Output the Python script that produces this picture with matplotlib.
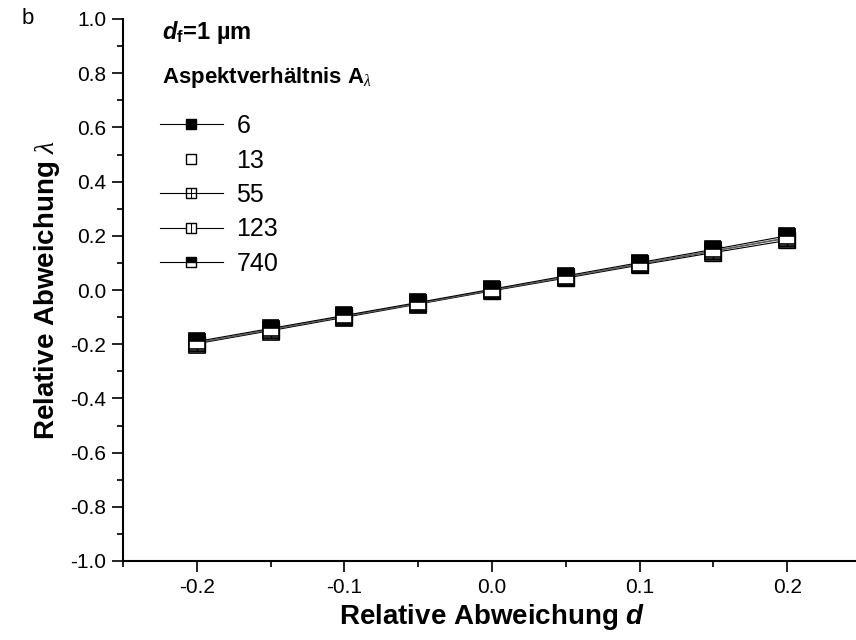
import matplotlib
matplotlib.use('Agg')
import matplotlib.pyplot as plt
from matplotlib.lines import Line2D
from matplotlib.legend_handler import HandlerTuple

plt.rcParams['font.family'] = ['Liberation Sans', 'DejaVu Sans']
plt.rcParams['mathtext.fontset'] = 'custom'
plt.rcParams['mathtext.it'] = 'Liberation Sans:italic:bold'
plt.rcParams['mathtext.bf'] = 'Liberation Sans:bold'
plt.rcParams['mathtext.rm'] = 'Liberation Sans:bold'
plt.rcParams['mathtext.sf'] = 'Liberation Serif:italic'

# relative deviation d and lambda for each aspect ratio
d = [-0.2, -0.15, -0.1, -0.05, 0.0, 0.05, 0.1, 0.15, 0.2]
lam_6 = [-0.198, -0.150, -0.101, -0.052, -0.003, 0.044, 0.092, 0.138, 0.183]
lam_13 = [-0.203, -0.154, -0.104, -0.055, -0.005, 0.044, 0.091, 0.138, 0.185]
lam_55 = [-0.196, -0.147, -0.098, -0.050, -0.001, 0.047, 0.095, 0.143, 0.191]
lam_123 = [-0.194, -0.146, -0.097, -0.049, 0.000, 0.048, 0.097, 0.145, 0.193]
lam_740 = [-0.190, -0.142, -0.094, -0.046, 0.003, 0.052, 0.101, 0.150, 0.200]
labels = ['6', '13', '55', '123', '740']

fig = plt.figure(figsize=(8.56, 6.4), dpi=100)
ax = fig.add_axes([123 / 856, 79 / 640, 738 / 856, 542 / 640])

ms = 11
lw = 0.8
ax.plot(d, lam_6, '-', color='black', lw=lw, marker='s', ms=ms, mfc='black', mec='black')
ax.plot(d, lam_13, 'none', marker='s', ms=ms, mfc='white', mec='black', mew=1.2)
ax.plot(d, lam_55, '-', color='#444444', lw=lw, marker='s', ms=ms, mfc='white', mec='black', mew=1.2)
ax.plot(d, lam_55, 'none', marker='+', ms=ms, mec='black', mew=1.0)
ax.plot(d, lam_123, '-', color='#666666', lw=lw, marker='s', ms=ms, mfc='white', mec='black', mew=1.2)
ax.plot(d, lam_123, 'none', marker='|', ms=ms, mec='black', mew=1.0)
ax.plot(d, lam_740, '-', color='black', lw=lw, marker='s', ms=ms, fillstyle='top',
        mfc='black', mfcalt='white', mec='black', mew=1.2)

ax.set_xlim(-0.25, 0.25)
ax.set_ylim(-1.0, 1.0)
ax.set_xticks([-0.2, -0.1, 0.0, 0.1, 0.2])
ax.set_xticks([-0.25, -0.15, -0.05, 0.05, 0.15, 0.25], minor=True)
ax.set_yticks([-1.0, -0.8, -0.6, -0.4, -0.2, 0.0, 0.2, 0.4, 0.6, 0.8, 1.0])
ax.set_yticks([-0.9, -0.7, -0.5, -0.3, -0.1, 0.1, 0.3, 0.5, 0.7, 0.9], minor=True)
ax.xaxis.set_major_formatter(matplotlib.ticker.FormatStrFormatter('%.1f'))
ax.yaxis.set_major_formatter(matplotlib.ticker.FormatStrFormatter('%.1f'))
ax.tick_params(which='major', direction='out', length=8, width=1.2, labelsize=15, pad=4)
ax.tick_params(which='minor', direction='out', length=4, width=1.2)
for s in ['top', 'right']:
    ax.spines[s].set_visible(False)
for s in ['left', 'bottom']:
    ax.spines[s].set_linewidth(1.5)

ax.set_xlabel(r'Relative Abweichung $\mathit{d}$', fontsize=20, fontweight='bold', labelpad=4)
ax.set_ylabel(r'Relative Abweichung $\mathsf{\lambda}$', fontsize=20, fontweight='bold', labelpad=6)

# legend
lms = 7.5
h6 = Line2D([], [], color='black', lw=lw, marker='s', ms=lms, mfc='black', mec='black')
h13 = Line2D([], [], ls='none', marker='s', ms=lms, mfc='white', mec='black', mew=1)
h55 = (Line2D([], [], color='black', lw=lw, marker='s', ms=lms, mfc='white', mec='black', mew=1),
       Line2D([], [], ls='none', marker='+', ms=lms, mec='black', mew=0.8))
h123 = (Line2D([], [], color='black', lw=lw, marker='s', ms=lms, mfc='white', mec='black', mew=1),
        Line2D([], [], ls='none', marker='|', ms=lms, mec='black', mew=0.8))
h740 = Line2D([], [], color='black', lw=lw, marker='s', ms=lms, fillstyle='top',
              mfc='black', mfcalt='white', mec='black', mew=1)
leg = ax.legend([h6, h13, h55, h123, h740], labels, loc='upper left',
                bbox_to_anchor=(160 / 856, 1 - 114 / 640), bbox_transform=fig.transFigure,
                frameon=False, fontsize=18, handlelength=2.5, handletextpad=0.55,
                labelspacing=0.42, borderpad=0, borderaxespad=0,
                handler_map={tuple: HandlerTuple(ndivide=1, pad=0)})

fig.text(162 / 856, 1 - 33 / 640, r'$\mathit{d}_\mathrm{f}$=1 µm', fontsize=17,
         fontweight='bold', va='center', ha='left')
fig.text(162 / 856, 1 - 78 / 640, r'Aspektverhältnis A$_\mathsf{\lambda}$', fontsize=16,
         fontweight='bold', va='center', ha='left')
fig.text(22 / 856, 1 - 18 / 640, 'b', fontsize=16, va='center', ha='left')

fig.savefig('out.png', dpi=100)
